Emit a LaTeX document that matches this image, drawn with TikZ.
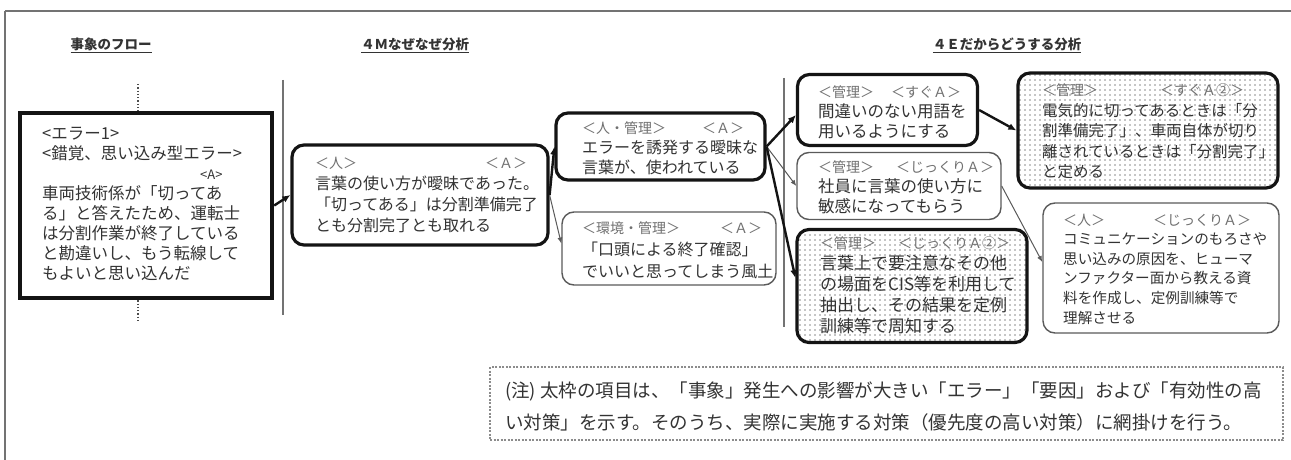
\documentclass[tikz,border=0pt]{standalone}
\usepackage{fontspec}
\setmainfont{Noto Sans CJK JP}
\usetikzlibrary{arrows.meta,patterns.meta,calc}
\definecolor{txtc}{HTML}{333333}
\definecolor{lblc}{HTML}{707070}
\definecolor{boxc}{HTML}{141414}
\definecolor{thinc}{HTML}{5A5A5A}
\tikzdeclarepattern{name=mydots, type=uncolored,
  bounding box={(-1pt,-1pt) and (1pt,1pt)},
  tile size={(5pt,5pt)},
  code={\fill (0pt,0pt) circle (0.9pt);}}
\newcommand{\lblfont}{\color{lblc}\fontsize{14}{20}\selectfont}
\begin{document}
\begin{tikzpicture}[x=1pt,y=-1pt,
  thickbox/.style={draw=boxc, line width=3.2pt, rounded corners=12pt, fill=white, inner sep=0pt},
  thinbox/.style={draw=thinc, line width=1.4pt, rounded corners=12pt, fill=white, inner sep=0pt},
  shadedbox/.style={preaction={fill=white}, pattern=mydots, pattern color=black!45},
  body/.style={text=txtc, inner sep=0pt, anchor=north west, align=left},
  head/.style={text=txtc, inner sep=0pt, font=\fontsize{13.5}{16}\selectfont\bfseries},
  sep/.style={draw=black!55, line width=1.2pt},
  thickarrow/.style={draw=boxc, line width=2.4pt, -{Latex[length=8pt,width=7pt]}},
  thinarrow/.style={draw=thinc, line width=1pt, -{Latex[length=6pt,width=5pt]}}
]
\useasboundingbox (0,0) rectangle (1291,460);
\fill[white] (0,0) rectangle (1291,460);
% frame
\draw[black!55, line width=2.4pt] (5,11) -- (1291,11);
\draw[black!55, line width=2pt] (5,11) -- (5,460);
% headers
\node[head] (h1) at (111,45) {\underline{事象のフロー}};
\node[head] (h2) at (415,45) {\underline{４Ｍなぜなぜ分析}};
\node[head] (h3) at (1007,45) {\underline{４Ｅだからどうする分析}};
% separators
\draw[sep] (283,80) -- (283,315);
\draw[sep] (784,78) -- (784,327);
% boxes
\node[draw=boxc, line width=4.4pt, fill=white, inner sep=0pt, minimum width=252pt, minimum height=185pt] (b1) at (146,205.5) {};
\node[thickbox, minimum width=256pt, minimum height=100pt] (b2) at (420,195) {};
\node[thickbox, minimum width=209pt, minimum height=67pt] (b3a) at (660.5,146.5) {};
\node[thinbox, minimum width=214pt, minimum height=73pt] (b3b) at (669,248.5) {};
\node[thickbox, minimum width=180pt, minimum height=71pt] (b4a) at (887.5,110) {};
\node[thinbox, minimum width=204pt, minimum height=67pt] (b4b) at (899,186) {};
\node[thickbox, shadedbox, minimum width=230pt, minimum height=113pt] (b4c) at (912,286) {};
\node[thickbox, shadedbox, minimum width=260pt, minimum height=115pt] (b5a) at (1148,130.5) {};
\node[thinbox, minimum width=236pt, minimum height=130pt] (b5b) at (1161,268) {};
\node[draw=black!45, dash pattern=on 2pt off 1.5pt, line width=1.6pt, fill=white, inner sep=0pt, minimum width=793pt, minimum height=73pt] (note) at (886.5,403.5) {};
% dotted flow line
\coordinate (ft) at (138,84);
\coordinate (fb) at (138,322);
\draw[black!70, line width=1.3pt, dotted] (ft) -- (ft |- b1.north);
\draw[black!70, line width=1.3pt, dotted] (fb |- b1.south) -- (fb);
% texts
\node[body, font=\fontsize{16.5}{20}\selectfont] (t1) at (42,127) {<エラー1>\\<錯覚、思い込み型エラー>\\{\fontsize{13}{20}\selectfont\hspace*{158pt}<A>}\\車両技術係が「切ってあ\\る」と答えたため、運転士\\は分割作業が終了している\\と勘違いし、もう転線して\\もよいと思い込んだ};
\node[body, font=\fontsize{16}{21}\selectfont] (t2) at (315,156.5) {{\lblfont ＜人＞\hspace*{128pt}＜Ａ＞}\\言葉の使い方が曖昧であった。\\「切ってある」は分割準備完了\\とも分割完了とも取れる};
\node[body, font=\fontsize{16}{20}\selectfont] (t3a) at (582,121.5) {{\lblfont ＜人・管理＞\hspace*{36pt}＜Ａ＞}\\エラーを誘発する曖昧な\\言葉が、使われている};
\node[body, font=\fontsize{16}{22}\selectfont] (t3b) at (582,221.5) {{\lblfont ＜環境・管理＞\hspace*{40pt}＜Ａ＞}\\「口頭による終了確認」\\でいいと思ってしまう風土};
\node[body, font=\fontsize{16.5}{20}\selectfont] (t4a) at (818,85.5) {{\lblfont ＜管理＞\hspace*{17pt}＜すぐＡ＞}\\間違いのない用語を\\用いるようにする};
\node[body, font=\fontsize{16.5}{20}\selectfont] (t4b) at (818,160.5) {{\lblfont ＜管理＞\hspace*{22pt}＜じっくりＡ＞}\\社員に言葉の使い方に\\敏感になってもらう};
\node[body, font=\fontsize{17}{21}\selectfont] (t4c) at (820,236.5) {{\lblfont ＜管理＞\hspace*{22pt}＜じっくりＡ②＞}\\言葉上で要注意なその他\\の場面をCIS等を利用して\\抽出し、その結果を定例\\訓練等で周知する};
\node[body, font=\fontsize{15.5}{20.5}\selectfont] (t5a) at (1042,83.5) {{\lblfont ＜管理＞\hspace*{62pt}＜すぐＡ②＞}\\電気的に切ってあるときは「分\\割準備完了」、車両自体が切り\\離されているときは「分割完了」\\と定める};
\node[body, font=\fontsize{14.6}{19.6}\selectfont] (t5b) at (1063,213.5) {{\lblfont ＜人＞\hspace*{48pt}＜じっくりＡ＞}\\コミュニケーションのもろさや\\思い込みの原因を、ヒューマ\\ンファクター面から教える資\\料を作成し、定例訓練等で\\理解させる};
\node[body, font=\fontsize{18.5}{32}\selectfont] (tn) at (505,381.5) {(注) 太枠の項目は、「事象」発生への影響が大きい「エラー」「要因」および「有効性の高\\い対策」を示す。そのうち、実際に実施する対策（優先度の高い対策）に網掛けを行う。};
% connectors
\draw[thickarrow] (b1.east) -- (b2.west);
\draw[thickarrow] (b2.east) -- (b3a.west);
\draw[thinarrow] (b2.east) -- ([yshift=5pt]b3b.west);
\draw[thickarrow] (b3a.east) -- ([yshift=-5pt]b4a.west);
\draw[thinarrow] (b3a.east) -- (b4b.west);
\draw[thickarrow] (b3a.east) -- ([yshift=8pt]b4c.west);
\draw[thickarrow] (b4a.east) -- (b5a.west);
\draw[thinarrow] (b4b.east) -- ([yshift=6pt]b5b.west);
\end{tikzpicture}
\end{document}
